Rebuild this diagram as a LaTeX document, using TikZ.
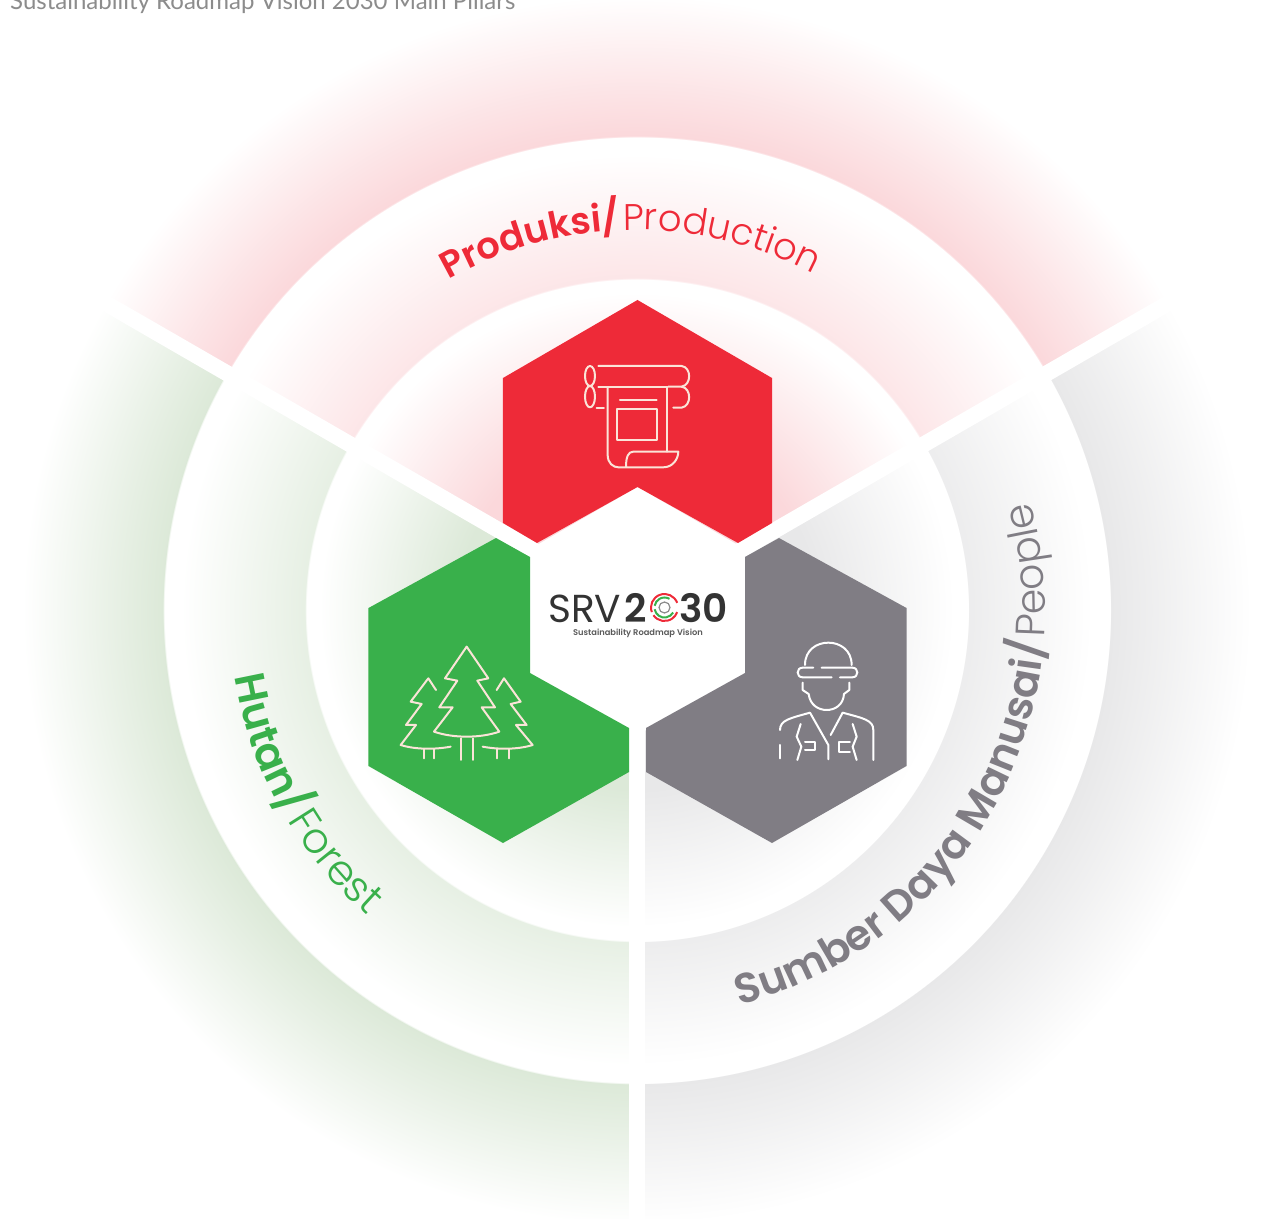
\documentclass[tikz,border=0pt]{standalone}
\usepackage{fontspec}
\setmainfont{Poppins}
\newfontfamily\lfont{Lato}
\newfontfamily\psemi{Poppins SemiBold}
\newfontfamily\plight{Poppins Light}
\usetikzlibrary{decorations.text}
\definecolor{cred}{HTML}{EE2A38}
\definecolor{cgreen}{HTML}{39B04B}
\definecolor{cgray}{HTML}{807D84}
\definecolor{gred}{HTML}{FBD8DB}
\definecolor{ggreen}{HTML}{DCE9D8}
\definecolor{ggray}{HTML}{E8E8E9}
\definecolor{cline}{HTML}{FBE4D8}
\pgfdeclareradialshading{glowred}{\pgfpoint{0bp}{0bp}}{%
 color(0bp)=(gred);color(7bp)=(gred);color(12.4bp)=(white);color(12.93bp)=(white);
 color(12.95bp)=(gred!65!white);color(17.8bp)=(white);color(18.48bp)=(white);
 color(18.5bp)=(gred);color(20.5bp)=(gred!65!white);color(24bp)=(white);color(50bp)=(white)}
\pgfdeclareradialshading{glowgreen}{\pgfpoint{0bp}{0bp}}{%
 color(0bp)=(ggreen);color(7bp)=(ggreen);color(12.4bp)=(white);color(12.93bp)=(white);
 color(12.95bp)=(ggreen!70!white);color(17.8bp)=(white);color(18.48bp)=(white);
 color(18.5bp)=(ggreen);color(20.5bp)=(ggreen!65!white);color(24bp)=(white);color(50bp)=(white)}
\pgfdeclareradialshading{glowgray}{\pgfpoint{0bp}{0bp}}{%
 color(0bp)=(ggray);color(7bp)=(ggray);color(12.4bp)=(white);color(12.93bp)=(white);
 color(12.95bp)=(ggray!80!white);color(17.8bp)=(white);color(18.48bp)=(white);
 color(18.5bp)=(ggray);color(20.5bp)=(ggray!65!white);color(24bp)=(white);color(50bp)=(white)}
\newcommand{\lblb}[1]{\psemi\fontsize{#1pt}{40pt}\selectfont}
\newcommand{\lblr}[1]{\plight\fontsize{#1pt}{40pt}\selectfont}
\tikzset{
  px/.style={x=1pt,y=-1pt,shift={(-637pt,610pt)}},
  icon/.style={draw=#1,line width=2pt,line cap=round,line join=round},
  spoke/.style={draw=white,line width=16pt},
  arctext/.style={decorate,decoration={text along path,text align={align=center},text={#1}}},
  logotext/.style={inner sep=0pt,anchor=base west,text=black!80},
}
\begin{document}
\begin{tikzpicture}[x=1pt,y=1pt]
\useasboundingbox (-637,610) rectangle (628,-608);
\clip (-637,610) rectangle (628,-608);
\fill[white] (-637,610) rectangle (628,-608);
% glow sectors
\begin{scope}\clip (0,0) -- (30:1200) -- (90:1400) -- (150:1200) -- cycle;
 \shade[shading=glowred] (0,0) circle (640);\end{scope}
\begin{scope}\clip (0,0) -- (150:1200) -- (210:1400) -- (270:1200) -- cycle;
 \shade[shading=glowgreen] (0,0) circle (640);\end{scope}
\begin{scope}\clip (0,0) -- (270:1200) -- (330:1400) -- (30:1200) -- cycle;
 \shade[shading=glowgray] (0,0) circle (640);\end{scope}
% spokes
\coordinate (hub) at (0,0);
\coordinate (sa) at (30:660); \coordinate (sb) at (150:660); \coordinate (sc) at (270:660);
\draw[spoke] (hub) -- (sa);
\draw[spoke] (hub) -- (sb);
\draw[spoke] (hub) -- (sc);
% hexagons and icons in pixel coordinates
\begin{scope}[px]
\fill[white] (637.5,487) -- (745,549) -- (745,673) -- (637.5,735) -- (530,673) -- (530,549) -- cycle;
\fill[cred] (637.5,300) -- (772,378) -- (772,523) -- (738,543) -- (637.5,487) -- (537,543) -- (503,523) -- (503,378) -- cycle;
\fill[cgreen] (368.5,608) -- (496,538) -- (530,557) -- (530,673) -- (629,728) -- (629,772) -- (503,843) -- (368.5,766) -- cycle;
\fill[cgray] (906.5,608) -- (779,538) -- (745,557) -- (745,673) -- (646,728) -- (646,772) -- (772,843) -- (906.5,766) -- cycle;
% printer
\begin{scope}[shift={(530,340)},x=0.3333pt,y=-0.3333pt]
\draw[icon=cline] (180,108) ellipse (15 and 30);
\draw[icon=cline] (180,170) ellipse (15 and 32);
\draw[icon=cline] (205,78) -- (455,78) .. controls (485,82) and (485,135) .. (455,140) -- (415,140);
\draw[icon=cline] (455,140) .. controls (485,145) and (485,198) .. (455,203) -- (430,203);
\draw[icon=cline] (205,140) -- (412,140);
\draw[icon=cline] (200,203) -- (222,203);
\draw[icon=cline] (233,143) -- (233,345) .. controls (233,370) and (250,382) .. (265,382) -- (400,382) .. controls (430,382) and (445,355) .. (445,335) -- (310,335) .. controls (295,335) and (288,350) .. (288,382);
\draw[icon=cline] (412,143) -- (412,335);
\draw[icon=cline] (270,180) -- (380,180);
\draw[icon=cline] (262,207) rectangle (380,300);
\end{scope}
% trees
\begin{scope}[shift={(380,630)},x=0.3333pt,y=-0.3333pt]
\draw[icon=cline] (260,50) -- (325,145) -- (292,152) -- (345,232) -- (305,232) -- (358,305) .. controls (300,325) and (220,325) .. (162,305) -- (218,232) -- (178,232) -- (232,152) -- (195,145) -- cycle;
\draw[icon=cline] (242,325) -- (242,390);
\draw[icon=cline] (280,325) -- (280,390);
\draw[icon=cline] (168,180) -- (145,145) -- (92,215) -- (125,222) -- (78,285) -- (108,285) -- (62,345) .. controls (110,360) and (170,358) .. (212,350);
\draw[icon=cline] (132,358) -- (132,385);
\draw[icon=cline] (162,358) -- (162,385);
\draw[icon=cline] (350,180) -- (372,145) -- (422,215) -- (392,222) -- (440,285) -- (408,285) -- (458,345) .. controls (410,360) and (350,358) .. (308,350);
\draw[icon=cline] (352,358) -- (352,385);
\draw[icon=cline] (388,358) -- (388,385);
\end{scope}
% worker
\begin{scope}[shift={(760,630)},x=0.3333pt,y=-0.3333pt]
\draw[icon=white] (135,105) .. controls (135,60) and (170,38) .. (205,38) .. controls (240,38) and (275,60) .. (275,105);
\draw[icon=white] (160,113) -- (128,113) .. controls (108,113) and (108,142) .. (128,142) -- (215,142);
\draw[icon=white] (185,113) -- (277,113) .. controls (297,113) and (297,142) .. (277,142) -- (240,142);
\draw[icon=white] (128,158) -- (128,180) -- (146,192) .. controls (150,225) and (175,240) .. (200,240) .. controls (225,240) and (250,225) .. (252,192) -- (268,180) -- (268,158);
\draw[icon=white] (60,300) .. controls (60,270) and (90,265) .. (150,248) -- (205,345) -- (205,388);
\draw[icon=white] (340,390) -- (340,300) .. controls (340,270) and (310,265) .. (248,248) -- (212,315);
\draw[icon=white] (60,345) -- (60,385);
\draw[icon=white] (122,282) -- (110,320) -- (124,350) -- (112,390);
\draw[icon=white] (278,282) -- (290,320) -- (278,350) -- (290,390);
\draw[icon=white] (135,335) -- (165,335) -- (165,360) -- (135,360);
\draw[icon=white] (270,335) -- (238,335) -- (238,365) -- (270,365);
\end{scope}
\end{scope}
% logo ring
\coordinate (ringc) at (27.5,2.5);
\draw[cred,line width=2pt] (ringc) ++(20:13.5) arc[start angle=20,end angle=200,radius=13.5];
\draw[cred,line width=2pt] (ringc) ++(215:13.5) arc[start angle=215,end angle=340,radius=13.5];
\draw[cgreen,line width=2pt] (ringc) ++(60:10) arc[start angle=60,end angle=170,radius=10];
\draw[cgreen,line width=2pt] (ringc) ++(190:10) arc[start angle=190,end angle=330,radius=10];
\draw[black!45,line width=1.2pt] (ringc) circle (5.5);
% logo text
\node[logotext,font=\fontsize{39pt}{40pt}\selectfont] (srv) at (-89,-12) {SRV};
\node[logotext,font=\psemi\fontsize{39pt}{40pt}\selectfont] (two) at (-13,-12) {2};
\node[logotext,font=\psemi\fontsize{39pt}{40pt}\selectfont] (thirty) at (42,-12) {30};
\node[inner sep=0pt,text=black!65,font=\psemi\fontsize{8.3pt}{9pt}\selectfont] (sub) at (1,-23.5) {Sustainability Roadmap Vision};
% title
\node[anchor=base west,inner sep=0pt,text=black!45,font=\lfont\fontsize{24pt}{25pt}\selectfont] (title) at (-627,600.5) {Sustainability Roadmap Vision 2030 Main Pillars};
% curved labels
\draw[arctext={|\lblb{37}\color{cred}|Produksi/|| |\lblr{37}\color{cred}|Production}] (141:380) arc[start angle=141,end angle=41,radius=380];
\draw[arctext={|\lblb{42}\color{cgreen}|Hutan/|| |\lblr{42}\color{cgreen}|Forest}] (170:408) arc[start angle=170,end angle=248,radius=408];
\draw[arctext={|\lblb{42}\color{cgray}|Sumber Daya Manusai/|| |\lblr{41}\color{cgray}|People}] (-100:408) arc[start angle=-100,end angle=40,radius=408];
\end{tikzpicture}
\end{document}
